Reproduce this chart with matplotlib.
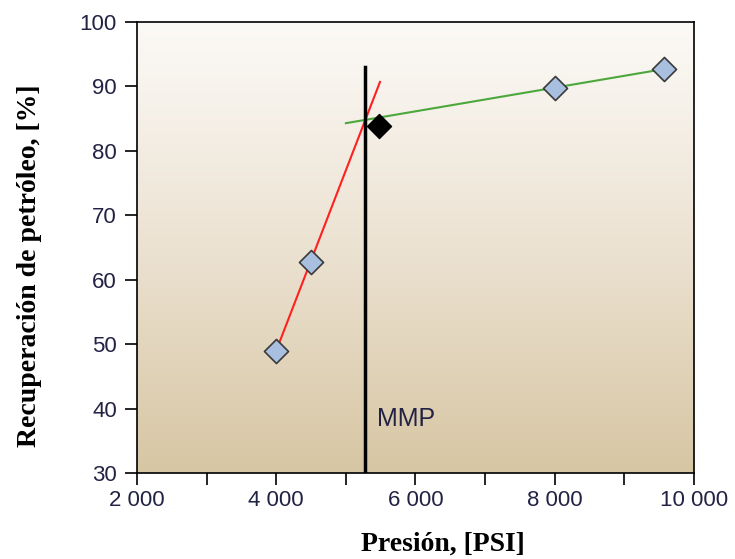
import matplotlib
matplotlib.use('Agg')

import numpy as np
import matplotlib.pyplot as plt
from matplotlib.colors import LinearSegmentedColormap

# data
pres = [4000, 4500, 8000, 9570]
recov = [49.0, 62.8, 89.8, 92.7]
mmp_pt = (5480, 83.8)

red_x = [4000, 5490]
red_y = [49.0, 90.7]
green_x = [5000, 9570]
green_y = [84.3, 92.7]

mmp_x = 5270
mmp_top = 93.0

xticks = [2000, 4000, 6000, 8000, 10000]
xlabels = ['2 000', '4 000', '6 000', '8 000', '10 000']
yticks = [30, 40, 50, 60, 70, 80, 90, 100]

tick_font = ['Liberation Sans', 'DejaVu Sans']
label_font = ['Liberation Serif', 'DejaVu Serif']

fig = plt.figure(figsize=(7.35, 5.59), dpi=100)
ax = fig.add_axes([0.1864, 0.1538, 0.7578, 0.8068])

# background gradient
cmap = LinearSegmentedColormap.from_list('bg', ['#fcfaf7', '#ece2d2', '#d7c6a3'])
grad = np.linspace(1, 0, 256).reshape(-1, 1)
ax.imshow(grad, cmap=cmap, aspect='auto', extent=[2000, 10000, 30, 100],
          origin='lower', zorder=0)

ax.plot(red_x, red_y, color='#ff2020', lw=1.5, zorder=2)
ax.plot(green_x, green_y, color='#4ca83c', lw=1.5, zorder=2)
ax.plot([mmp_x, mmp_x], [30, mmp_top], color='black', lw=2.5, zorder=3)

ax.scatter(pres, recov, marker='D', s=150, facecolor='#a8bfdf',
           edgecolor='#3a3a3a', linewidth=1.2, zorder=4)
ax.scatter([mmp_pt[0]], [mmp_pt[1]], marker='D', s=150, facecolor='black',
           edgecolor='black', zorder=4)

ax.text(5440, 38.4, 'MMP', fontsize=18, family=tick_font, color='#222244',
        va='center', ha='left')

ax.set_xlim(2000, 10000)
ax.set_ylim(30, 100)
ax.set_xticks(xticks)
ax.set_xticklabels(xlabels)
ax.set_xticks([3000, 5000, 7000, 9000], minor=True)
ax.set_yticks(yticks)
ax.tick_params(axis='both', which='both', direction='out', length=8.5, width=1.2,
               labelsize=16, labelcolor='#222244')
ax.tick_params(axis='y', pad=6)
ax.tick_params(axis='x', pad=4)
for lab in ax.get_xticklabels() + ax.get_yticklabels():
    lab.set_family(tick_font)
for s in ax.spines.values():
    s.set_linewidth(1.2)

ax.set_xlabel('Presión, [PSI]', fontsize=20, fontweight='bold', family=label_font)
ax.set_ylabel('Recuperación de petróleo, [%]', fontsize=20, fontweight='bold',
              family=label_font)
ax.xaxis.set_label_coords(0.549, -0.13)
ax.yaxis.set_label_coords(-0.171, 0.46)

plt.savefig('out.png', dpi=100)
plt.close()
